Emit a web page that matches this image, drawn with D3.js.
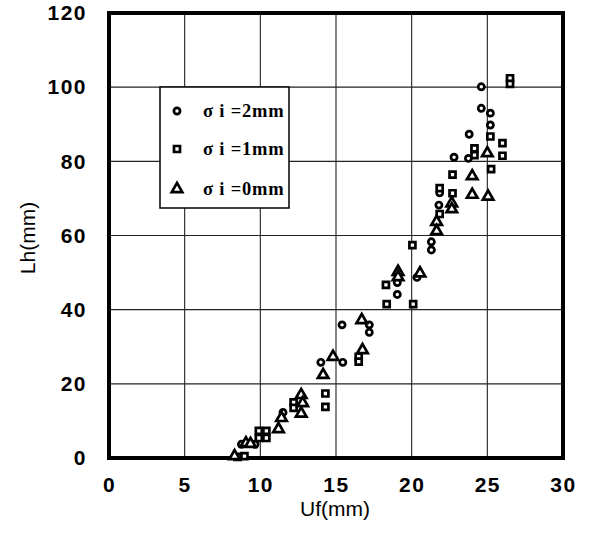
<!DOCTYPE html>
<html><head><meta charset="utf-8">
<script src="https://cdn.jsdelivr.net/npm/d3@7"></script>
<style>body{margin:0;background:#fff}svg{display:block}</style>
</head><body>
<svg id="c" width="591" height="534"></svg>
<script>
const xTicks = [0,5,10,15,20,25,30];
const yTicks = [0,20,40,60,80,100,120];
const seriesNames = ["σ i =2mm","σ i =1mm","σ i =0mm"];
const s2mm = [[8.75,3.7],[9.65,3.7],[11.5,12.3],[14.0,25.8],[15.4,35.9],[15.45,25.8],[17.2,35.9],[17.2,33.9],[19.05,47.3],[19.05,44.1],[20.35,48.7],[21.3,58.3],[21.3,56.1],[21.8,68.2],[21.85,71.5],[22.8,81.1],[23.75,80.8],[23.8,87.3],[24.6,94.3],[24.6,100.1],[25.2,93.0],[25.2,89.8]];
const s1mm = [[8.5,0.3],[8.95,0.5],[9.9,7.3],[10.4,7.3],[9.9,5.4],[10.4,5.4],[12.2,15.0],[12.2,13.5],[14.3,17.4],[14.3,13.8],[16.5,27.3],[16.5,26.0],[18.3,46.7],[18.35,41.5],[20.05,57.4],[20.1,41.5],[21.85,72.8],[21.85,65.8],[22.7,76.4],[22.7,71.4],[24.15,83.5],[24.15,81.7],[25.2,86.7],[25.25,77.9],[26.0,84.9],[26.0,81.5],[26.5,102.4],[26.5,100.9]];
const s0mm = [[8.3,0.5],[9.05,4.0],[9.35,3.8],[11.2,7.8],[11.4,10.8],[12.7,17.0],[12.8,14.8],[12.7,12.0],[14.15,22.4],[14.8,27.3],[16.7,37.2],[16.75,29.1],[19.1,50.2],[19.1,48.8],[20.55,49.8],[21.65,63.7],[21.65,61.2],[22.65,68.7],[22.65,67.1],[24.0,76.0],[24.0,71.0],[25.0,82.2],[25.05,70.5]];

const svg = d3.select("#c");
const L=109, R=563, T=13, B=458;
const x = d3.scaleLinear().domain([0,30]).range([L,R]);
const y = d3.scaleLinear().domain([0,120]).range([B,T]);

// grid
const g = svg.append("g");
g.selectAll(".vx").data(xTicks.slice(1,-1)).join("line")
 .attr("x1",d=>x(d)).attr("x2",d=>x(d)).attr("y1",T).attr("y2",B)
 .attr("stroke","#222").attr("stroke-width",1.1);
g.selectAll(".hy").data(yTicks.slice(1,-1)).join("line")
 .attr("y1",d=>y(d)).attr("y2",d=>y(d)).attr("x1",L).attr("x2",R)
 .attr("stroke","#222").attr("stroke-width",1.1);

// axes (labels only)
const xa = svg.append("g").attr("transform",`translate(0,${B})`)
 .call(d3.axisBottom(x).tickValues(xTicks).tickSize(0).tickPadding(19));
const ya = svg.append("g").attr("transform",`translate(${L},0)`)
 .call(d3.axisLeft(y).tickValues(yTicks).tickSize(0).tickPadding(22));
[xa,ya].forEach(a=>{a.select(".domain").remove();
 a.selectAll("text").attr("font-family","Liberation Sans, Arial, sans-serif")
  .attr("font-weight","bold").attr("font-size",21).attr("fill","#000").attr("letter-spacing",1.5);});

// frame
svg.append("rect").attr("x",L).attr("y",T).attr("width",R-L).attr("height",B-T)
 .attr("fill","none").attr("stroke","#000").attr("stroke-width",4);

// titles
svg.append("text").attr("x",335).attr("y",516).attr("text-anchor","middle")
 .attr("font-family","Liberation Sans, Arial, sans-serif").attr("font-size",21).text("Uf(mm)");
svg.append("text").attr("transform","translate(35,238) rotate(-90)").attr("text-anchor","middle")
 .attr("font-family","Liberation Sans, Arial, sans-serif").attr("font-size",21).text("Lh(mm)");

// legend
const lg = svg.append("g");
lg.append("rect").attr("x",160).attr("y",87).attr("width",129).attr("height",121)
 .attr("fill","#fff").attr("stroke","#000").attr("stroke-width",1.5);

const sym = [d3.symbolCircle, d3.symbolSquare, d3.symbolTriangle];
const sizes = [30, 36, 48];
function drawSeries(data, i){
  svg.append("g").selectAll("path").data(data).join("path")
   .attr("transform",d=>`translate(${x(d[0])},${y(d[1])})`)
   .attr("d",d3.symbol().type(sym[i]).size(sizes[i]))
   .attr("fill","#fff").attr("stroke","#000").attr("stroke-width",2.7);
}
drawSeries(s2mm,0); drawSeries(s1mm,1); drawSeries(s0mm,2);

const ly=[111,149,189];
seriesNames.forEach((n,i)=>{
  lg.append("path").attr("transform",`translate(177,${ly[i]})`)
   .attr("d",d3.symbol().type(sym[i]).size(sizes[i]))
   .attr("fill","#fff").attr("stroke","#000").attr("stroke-width",2.7);
  lg.append("text").attr("x",203).attr("y",ly[i]+6)
   .attr("font-family","Liberation Serif, Times New Roman, serif").attr("font-weight","bold")
   .attr("font-size",18.5).attr("letter-spacing",0.8).text(n);
});
</script>
</body></html>
